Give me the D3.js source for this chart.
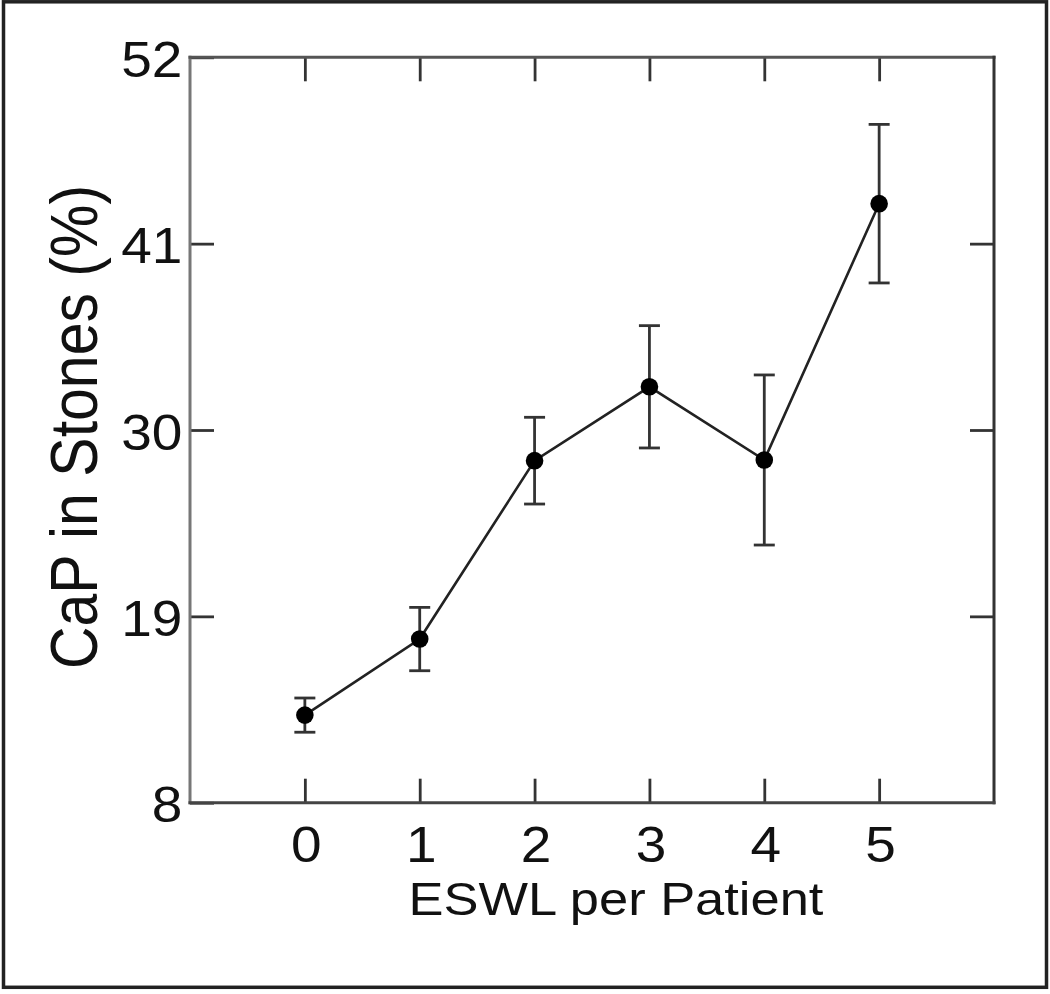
<!DOCTYPE html>
<html>
<head>
<meta charset="utf-8">
<script src="https://cdn.jsdelivr.net/npm/d3@7"></script>
<style>
  body { margin: 0; background: #fff; }
  svg { display: block; }
  text { font-family: "Liberation Sans", Arial, sans-serif; fill: #111; }
</style>
</head>
<body>
<script>
// values
var eswl = [0, 1, 2, 3, 4, 5];
var capMean = [13.17, 17.66, 28.19, 32.55, 28.23, 43.36];
var capErr = [1.01, 1.87, 2.56, 3.61, 5.02, 4.68];
var yTicks = [8, 19, 30, 41, 52];
var xTicks = [0, 1, 2, 3, 4, 5];

var W = 1050, H = 994;
var pLeft = 190, pRight = 994, pTop = 57.3, pBottom = 802.7;

var svg = d3.select("body").append("svg")
  .attr("width", W)
  .attr("height", H);

// outer frame
svg.append("rect")
  .attr("x", 3.5).attr("y", 1.8)
  .attr("width", 1043).attr("height", 985.5)
  .attr("fill", "none")
  .attr("stroke", "#222")
  .attr("stroke-width", 3.5);

var x = d3.scaleLinear().domain([-1, 6]).range([pLeft, pRight]);
var y = d3.scaleLinear().domain([8, 52]).range([pBottom, pTop]);
var fmt = d3.format("d");

// ticks on every side, pointing in
function styleAxis(g) {
  g.select(".domain").remove();
  g.selectAll(".tick line").attr("stroke", "#333").attr("stroke-width", 2.8);
}

var gl = svg.append("g").attr("transform", "translate(" + pLeft + ",0)")
  .call(d3.axisLeft(y).tickValues(yTicks).tickFormat(fmt).tickSize(-24).tickPadding(7))
  .call(styleAxis);
gl.selectAll(".tick text")
  .attr("dy", null).attr("y", 19)
  .attr("font-size", 50)
  .attr("fill", "#111")
  .attr("transform", "scale(1.1,1)");

svg.append("g").attr("transform", "translate(" + pRight + ",0)")
  .call(d3.axisRight(y).tickValues(yTicks.slice(1, -1)).tickSize(-24).tickFormat(""))
  .call(styleAxis);

svg.append("g").attr("transform", "translate(0," + pTop + ")")
  .call(d3.axisTop(x).tickValues(xTicks).tickSize(-24).tickFormat(""))
  .call(styleAxis);

var gb = svg.append("g").attr("transform", "translate(0," + pBottom + ")")
  .call(d3.axisBottom(x).tickValues(xTicks).tickFormat(fmt).tickSize(-24))
  .call(styleAxis);
gb.selectAll(".tick text")
  .attr("dy", null).attr("y", 59)
  .attr("font-size", 50)
  .attr("fill", "#111")
  .attr("transform", "translate(1,0) scale(1.1,1)");

// plot box
var box = [
  {x1: pLeft, y1: pTop, x2: pLeft, y2: pBottom, c: "#777"},
  {x1: pLeft, y1: pTop, x2: pRight, y2: pTop, c: "#555"},
  {x1: pRight, y1: pTop, x2: pRight, y2: pBottom, c: "#333"},
  {x1: pLeft, y1: pBottom, x2: pRight, y2: pBottom, c: "#444"}
];
svg.selectAll("line.box")
  .data(box)
  .enter().append("line")
  .attr("class", "box")
  .attr("x1", function (d) { return d.x1; })
  .attr("y1", function (d) { return d.y1; })
  .attr("x2", function (d) { return d.x2; })
  .attr("y2", function (d) { return d.y2; })
  .attr("stroke", function (d) { return d.c; })
  .attr("stroke-width", 3)
  .attr("stroke-linecap", "square");

var pts = eswl.map(function (v, i) {
  return {x: v, m: capMean[i], e: capErr[i]};
});

// error bars
var eb = svg.selectAll("g.err")
  .data(pts)
  .enter().append("g")
  .attr("class", "err")
  .attr("stroke", "#333")
  .attr("stroke-width", 2.8);
eb.append("line")
  .attr("x1", function (d) { return x(d.x); })
  .attr("x2", function (d) { return x(d.x); })
  .attr("y1", function (d) { return y(d.m + d.e); })
  .attr("y2", function (d) { return y(d.m - d.e); });
eb.append("line")
  .attr("x1", function (d) { return x(d.x) - 10.5; })
  .attr("x2", function (d) { return x(d.x) + 10.5; })
  .attr("y1", function (d) { return y(d.m + d.e); })
  .attr("y2", function (d) { return y(d.m + d.e); });
eb.append("line")
  .attr("x1", function (d) { return x(d.x) - 10.5; })
  .attr("x2", function (d) { return x(d.x) + 10.5; })
  .attr("y1", function (d) { return y(d.m - d.e); })
  .attr("y2", function (d) { return y(d.m - d.e); });

// connecting line
var line = d3.line()
  .x(function (d) { return x(d.x); })
  .y(function (d) { return y(d.m); });
svg.append("path")
  .datum(pts)
  .attr("d", line)
  .attr("fill", "none")
  .attr("stroke", "#222")
  .attr("stroke-width", 2.6);

svg.selectAll("circle.pt")
  .data(pts)
  .enter().append("circle")
  .attr("class", "pt")
  .attr("cx", function (d) { return x(d.x); })
  .attr("cy", function (d) { return y(d.m); })
  .attr("r", 8.8)
  .attr("fill", "#000");

// axis titles
svg.append("text")
  .attr("transform", "translate(616,915) scale(1.14,1)")
  .attr("text-anchor", "middle")
  .attr("font-size", 46)
  .text("ESWL per Patient");

svg.append("text")
  .attr("transform", "translate(97,427) scale(1.12,1) rotate(-90)")
  .attr("text-anchor", "middle")
  .attr("font-size", 59)
  .text("CaP in Stones (%)");
</script>
</body>
</html>
